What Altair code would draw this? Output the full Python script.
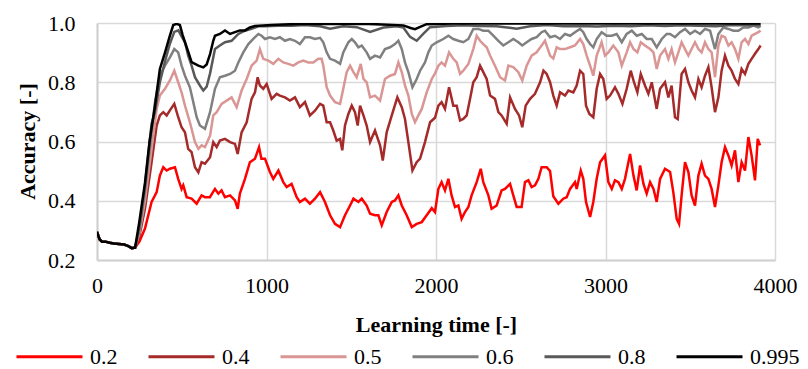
import altair as alt
import pandas as pd

SERIES = ["0.2", "0.4", "0.5", "0.6", "0.8", "0.995"]
COLORS = ["#FF0000", "#A52A2A", "#D99694", "#808080", "#595959", "#000000"]

# common start (all series coincide)
EARLY_T = [0, 15, 30, 50, 75, 100, 130, 160, 185, 205, 225]
EARLY_Y = [0.295, 0.270, 0.262, 0.262, 0.258, 0.256, 0.254, 0.252, 0.247, 0.240, 0.242]

T_02 = [250, 283, 322, 352, 371, 391, 411, 430, 460, 479, 499, 509, 529, 558, 588, 617, 637,
        666, 696, 716, 735, 755, 785, 814, 830, 843, 873, 902, 932, 956, 970, 991, 1020, 1040,
        1070, 1099, 1119, 1148, 1178, 1197, 1227, 1256, 1286, 1316, 1345, 1375, 1404, 1434,
        1463, 1493, 1513, 1542, 1562, 1591, 1611, 1640, 1660, 1680, 1709, 1739, 1758, 1778,
        1798, 1827, 1857, 1886, 1916, 1945, 1975, 1994, 2014, 2033, 2053, 2073, 2092, 2112,
        2132, 2151, 2171, 2191, 2210, 2240, 2264, 2279, 2309, 2328, 2358, 2387, 2407, 2437,
        2456, 2476, 2505, 2525, 2545, 2564, 2584, 2604, 2623, 2653, 2673, 2692, 2722, 2751,
        2771, 2791, 2820, 2830, 2854, 2869, 2885, 2909, 2928, 2948, 2968, 2997, 3017, 3037,
        3056, 3076, 3096, 3115, 3145, 3165, 3184, 3204, 3224, 3243, 3263, 3283, 3302, 3322,
        3351, 3381, 3400, 3420, 3434, 3449, 3469, 3489, 3508, 3528, 3548, 3567, 3587, 3607,
        3626, 3646, 3666, 3685, 3705, 3725, 3744, 3764, 3784, 3803, 3823, 3843, 3862, 3882,
        3898, 3912]
Y_02 = [0.262, 0.306, 0.396, 0.429, 0.485, 0.513, 0.502, 0.508, 0.513, 0.474, 0.440, 0.452,
        0.412, 0.407, 0.390, 0.418, 0.412, 0.412, 0.440, 0.424, 0.435, 0.412, 0.418, 0.401,
        0.373, 0.424, 0.474, 0.530, 0.542, 0.581, 0.542, 0.542, 0.497, 0.474, 0.502, 0.463,
        0.446, 0.457, 0.412, 0.396, 0.407, 0.390, 0.407, 0.429, 0.396, 0.351, 0.322, 0.311,
        0.351, 0.384, 0.407, 0.396, 0.407, 0.384, 0.356, 0.351, 0.351, 0.317, 0.362, 0.396,
        0.401, 0.418, 0.384, 0.351, 0.311, 0.322, 0.328, 0.351, 0.375, 0.362, 0.440, 0.463,
        0.435, 0.474, 0.418, 0.379, 0.384, 0.339, 0.362, 0.379, 0.418, 0.463, 0.508, 0.463,
        0.418, 0.373, 0.384, 0.435, 0.440, 0.457, 0.418, 0.379, 0.379, 0.463, 0.469, 0.446,
        0.452, 0.474, 0.513, 0.513, 0.500, 0.415, 0.390, 0.407, 0.412, 0.440, 0.463, 0.440,
        0.502, 0.474, 0.396, 0.345, 0.396, 0.474, 0.530, 0.553, 0.463, 0.440, 0.469, 0.463,
        0.440, 0.474, 0.558, 0.485, 0.435, 0.519, 0.457, 0.424, 0.463, 0.440, 0.396, 0.474,
        0.508, 0.497, 0.429, 0.339, 0.322, 0.418, 0.530, 0.497, 0.418, 0.384, 0.485, 0.525,
        0.485, 0.474, 0.440, 0.379, 0.452, 0.530, 0.581, 0.553, 0.519, 0.570, 0.463, 0.530,
        0.502, 0.615, 0.553, 0.469, 0.609, 0.587]

T_04 = [250, 283, 322, 352, 371, 391, 411, 430, 456, 476, 499, 519, 538, 558, 578, 598, 617,
        637, 667, 686, 706, 725, 755, 785, 814, 830, 853, 883, 912, 932, 948, 961, 981, 1001,
        1030, 1060, 1079, 1109, 1138, 1168, 1197, 1227, 1256, 1286, 1316, 1335, 1355, 1375,
        1394, 1414, 1434, 1447, 1463, 1483, 1503, 1522, 1538, 1552, 1572, 1591, 1611, 1640,
        1670, 1686, 1709, 1739, 1772, 1798, 1817, 1837, 1861, 1886, 1906, 1935, 1965, 1994,
        2014, 2033, 2053, 2077, 2102, 2122, 2142, 2161, 2181, 2201, 2220, 2240, 2260, 2279,
        2299, 2319, 2348, 2368, 2387, 2417, 2437, 2466, 2490, 2509, 2529, 2555, 2584, 2614,
        2634, 2653, 2673, 2692, 2712, 2732, 2761, 2781, 2810, 2830, 2850, 2869, 2885, 2905,
        2928, 2948, 2968, 2987, 3007, 3027, 3056, 3076, 3100, 3125, 3149, 3168, 3188, 3208,
        3233, 3253, 3273, 3302, 3322, 3351, 3371, 3390, 3410, 3426, 3449, 3469, 3489, 3508,
        3528, 3548, 3567, 3587, 3607, 3626, 3646, 3666, 3685, 3705, 3725, 3744, 3764, 3784,
        3803, 3823, 3843, 3862, 3882, 3902, 3915]
Y_04 = [0.280, 0.373, 0.530, 0.654, 0.688, 0.699, 0.688, 0.705, 0.727, 0.688, 0.648, 0.631,
        0.575, 0.564, 0.513, 0.496, 0.530, 0.525, 0.547, 0.598, 0.581, 0.603, 0.609, 0.598,
        0.592, 0.558, 0.631, 0.665, 0.744, 0.766, 0.817, 0.789, 0.778, 0.794, 0.744, 0.761,
        0.755, 0.749, 0.738, 0.749, 0.716, 0.733, 0.688, 0.704, 0.727, 0.721, 0.665, 0.665,
        0.637, 0.603, 0.609, 0.570, 0.654, 0.693, 0.721, 0.699, 0.654, 0.721, 0.688, 0.654,
        0.598, 0.637, 0.587, 0.536, 0.631, 0.688, 0.749, 0.716, 0.676, 0.598, 0.502, 0.530,
        0.542, 0.598, 0.665, 0.680, 0.721, 0.733, 0.710, 0.783, 0.721, 0.721, 0.671, 0.676,
        0.688, 0.744, 0.800, 0.817, 0.856, 0.834, 0.811, 0.755, 0.744, 0.699, 0.688, 0.660,
        0.749, 0.710, 0.688, 0.648, 0.721, 0.744, 0.761, 0.800, 0.839, 0.828, 0.800, 0.755,
        0.721, 0.766, 0.755, 0.772, 0.766, 0.789, 0.839, 0.828, 0.721, 0.693, 0.682, 0.778,
        0.828, 0.811, 0.744, 0.755, 0.783, 0.761, 0.727, 0.778, 0.839, 0.800, 0.766, 0.828,
        0.789, 0.761, 0.800, 0.710, 0.778, 0.800, 0.749, 0.789, 0.682, 0.676, 0.828, 0.845,
        0.800, 0.772, 0.749, 0.811, 0.783, 0.822, 0.851, 0.783, 0.699, 0.749, 0.839, 0.890,
        0.856, 0.839, 0.811, 0.794, 0.845, 0.828, 0.862, 0.879, 0.896, 0.912, 0.924]

T_05 = [250, 283, 322, 352, 371, 401, 430, 456, 479, 499, 519, 548, 578, 598, 617, 637, 667,
        686, 706, 735, 765, 794, 824, 853, 883, 912, 942, 961, 981, 1011, 1040, 1070, 1099,
        1129, 1158, 1188, 1217, 1246, 1276, 1306, 1325, 1335, 1355, 1375, 1404, 1434, 1453,
        1473, 1493, 1513, 1532, 1556, 1572, 1591, 1611, 1640, 1670, 1699, 1729, 1758, 1778,
        1798, 1817, 1837, 1857, 1876, 1896, 1916, 1945, 1975, 1994, 2014, 2033, 2053, 2077,
        2102, 2122, 2142, 2161, 2191, 2220, 2240, 2260, 2279, 2299, 2319, 2348, 2378, 2407,
        2427, 2456, 2486, 2509, 2535, 2564, 2594, 2623, 2643, 2673, 2692, 2712, 2732, 2761,
        2791, 2820, 2850, 2869, 2889, 2909, 2928, 2948, 2977, 2997, 3017, 3046, 3076, 3096,
        3125, 3145, 3165, 3188, 3208, 3233, 3263, 3283, 3302, 3322, 3351, 3371, 3390, 3410,
        3430, 3449, 3469, 3489, 3508, 3528, 3548, 3567, 3587, 3607, 3626, 3646, 3666, 3685,
        3705, 3725, 3744, 3764, 3784, 3803, 3823, 3843, 3862, 3882, 3902, 3915]
Y_05 = [0.290, 0.400, 0.575, 0.710, 0.755, 0.778, 0.806, 0.839, 0.800, 0.766, 0.721, 0.665,
        0.598, 0.575, 0.587, 0.581, 0.620, 0.688, 0.699, 0.727, 0.738, 0.749, 0.716, 0.772,
        0.811, 0.856, 0.873, 0.912, 0.879, 0.873, 0.862, 0.879, 0.867, 0.862, 0.856, 0.867,
        0.873, 0.867, 0.867, 0.879, 0.879, 0.856, 0.783, 0.755, 0.733, 0.727, 0.778, 0.834,
        0.856, 0.834, 0.817, 0.862, 0.811, 0.800, 0.749, 0.755, 0.738, 0.811, 0.822, 0.828,
        0.867, 0.834, 0.789, 0.755, 0.693, 0.665, 0.688, 0.710, 0.766, 0.811, 0.830, 0.856,
        0.867, 0.856, 0.901, 0.879, 0.867, 0.828, 0.839, 0.862, 0.912, 0.957, 0.940, 0.929,
        0.918, 0.890, 0.856, 0.817, 0.806, 0.856, 0.851, 0.834, 0.806, 0.856, 0.890, 0.901,
        0.924, 0.940, 0.890, 0.880, 0.918, 0.912, 0.912, 0.918, 0.924, 0.946, 0.929, 0.890,
        0.856, 0.822, 0.890, 0.935, 0.890, 0.901, 0.924, 0.901, 0.856, 0.901, 0.935, 0.912,
        0.901, 0.935, 0.924, 0.912, 0.901, 0.845, 0.890, 0.912, 0.879, 0.912, 0.867, 0.901,
        0.935, 0.912, 0.890, 0.912, 0.935, 0.912, 0.901, 0.935, 0.912, 0.901, 0.817, 0.924,
        0.957, 0.952, 0.924, 0.935, 0.912, 0.879, 0.935, 0.946, 0.929, 0.957, 0.963, 0.969,
        0.975]

T_06 = [250, 283, 322, 342, 371, 401, 430, 456, 479, 499, 519, 548, 568, 588, 607, 637, 667,
        696, 725, 755, 785, 814, 834, 863, 893, 922, 952, 971, 991, 1020, 1050, 1079, 1109,
        1138, 1168, 1197, 1227, 1256, 1286, 1316, 1335, 1355, 1375, 1404, 1434, 1453, 1483,
        1503, 1522, 1542, 1562, 1591, 1611, 1640, 1670, 1699, 1729, 1758, 1778, 1798, 1817,
        1837, 1861, 1886, 1906, 1935, 1955, 1975, 2004, 2043, 2073, 2102, 2132, 2161, 2191,
        2220, 2250, 2279, 2309, 2338, 2368, 2397, 2427, 2456, 2486, 2509, 2535, 2564, 2594,
        2623, 2643, 2673, 2702, 2732, 2761, 2791, 2820, 2850, 2869, 2889, 2909, 2928, 2948,
        2977, 3007, 3037, 3066, 3096, 3125, 3155, 3184, 3214, 3243, 3273, 3302, 3332, 3361,
        3381, 3410, 3440, 3469, 3499, 3528, 3558, 3587, 3617, 3646, 3666, 3695, 3725, 3754,
        3784, 3813, 3843, 3872, 3902, 3915]
Y_06 = [0.300, 0.430, 0.630, 0.733, 0.822, 0.856, 0.884, 0.912, 0.901, 0.856, 0.822, 0.783,
        0.733, 0.682, 0.654, 0.643, 0.699, 0.778, 0.817, 0.822, 0.828, 0.839, 0.867, 0.901,
        0.929, 0.946, 0.963, 0.957, 0.946, 0.952, 0.946, 0.952, 0.940, 0.946, 0.940, 0.929,
        0.952, 0.952, 0.946, 0.950, 0.935, 0.901, 0.879, 0.873, 0.862, 0.901, 0.935, 0.946,
        0.935, 0.918, 0.924, 0.901, 0.879, 0.890, 0.884, 0.912, 0.918, 0.929, 0.940, 0.912,
        0.867, 0.834, 0.783, 0.811, 0.839, 0.867, 0.901, 0.924, 0.935, 0.946, 0.957, 0.946,
        0.940, 0.935, 0.946, 0.980, 0.980, 0.974, 0.974, 0.957, 0.940, 0.924, 0.935, 0.946,
        0.935, 0.924, 0.935, 0.946, 0.952, 0.969, 0.974, 0.952, 0.957, 0.946, 0.963, 0.957,
        0.969, 0.980, 0.969, 0.946, 0.929, 0.918, 0.946, 0.969, 0.957, 0.957, 0.963, 0.935,
        0.963, 0.974, 0.957, 0.963, 0.946, 0.946, 0.918, 0.946, 0.963, 0.963, 0.952, 0.969,
        0.980, 0.963, 0.974, 0.963, 0.980, 0.974, 0.912, 0.963, 0.985, 0.980, 0.974, 0.974,
        0.985, 0.985, 0.991, 0.985, 0.991]

T_08 = [250, 283, 322, 342, 371, 401, 430, 456, 480, 499, 519, 538, 558, 578, 607, 627, 647,
        667, 696, 725, 755, 794, 834, 873, 912, 952, 991, 1070, 1148, 1227, 1316, 1375, 1453,
        1532, 1611, 1690, 1768, 1807, 1847, 1886, 1926, 1965, 2060, 2161, 2260, 2358, 2420,
        2476, 2555, 2653, 2751, 2850, 2950, 3050, 3150, 3250, 3350, 3450, 3550, 3650, 3750,
        3850, 3915]
Y_08 = [0.310, 0.450, 0.660, 0.700, 0.800, 0.870, 0.930, 0.970, 0.975, 0.955, 0.935, 0.890,
        0.856, 0.817, 0.789, 0.772, 0.785, 0.830, 0.912, 0.924, 0.935, 0.940, 0.963, 0.974,
        0.980, 0.989, 0.989, 0.991, 0.991, 0.993, 0.989, 0.981, 0.989, 0.986, 0.970, 0.985,
        0.989, 0.985, 0.953, 0.940, 0.964, 0.986, 0.990, 0.992, 0.990, 0.989, 0.985, 0.981,
        0.989, 0.993, 0.989, 0.990, 0.988, 0.991, 0.989, 0.992, 0.990, 0.992, 0.991, 0.989,
        0.993, 0.992, 0.993]

T_0995 = [250, 283, 310, 342, 371, 401, 430, 450, 470, 489, 505, 519, 540, 558, 598, 627, 647,
          667, 686, 696, 725, 755, 785, 814, 843, 873, 902, 932, 1030, 1100, 1200, 1400, 1600,
          1807, 1850, 1876, 1910, 1945, 2100, 2400, 2700, 3000, 3300, 3600, 3915]
Y_0995 = [0.330, 0.460, 0.600, 0.720, 0.845, 0.900, 0.957, 0.993, 0.997, 0.993, 0.960, 0.935,
          0.900, 0.868, 0.856, 0.850, 0.860, 0.895, 0.940, 0.957, 0.963, 0.975, 0.963, 0.969,
          0.975, 0.975, 0.985, 0.990, 0.993, 0.995, 0.997, 0.997, 0.997, 0.992, 0.983, 0.979,
          0.988, 0.996, 0.998, 0.998, 0.998, 0.998, 0.998, 0.998, 0.998]

SERIES_T = [T_02, T_04, T_05, T_06, T_08, T_0995]
SERIES_Y = [Y_02, Y_04, Y_05, Y_06, Y_08, Y_0995]

rows = []
for name, ts, ys in zip(SERIES, SERIES_T, SERIES_Y):
    for t, y in zip(EARLY_T + ts, EARLY_Y + ys):
        rows.append({"t": t, "acc": y, "series": name})
df = pd.DataFrame(rows)

FONT = "Liberation Serif"

chart = alt.Chart(df).mark_line(strokeWidth=2.5, clip=True).encode(
    x=alt.X("t:Q",
            scale=alt.Scale(domain=[0, 4000], nice=False),
            axis=alt.Axis(values=[0, 1000, 2000, 3000, 4000], format="d",
                          labelFont=FONT, labelFontSize=22, labelColor="#000000",
                          labelFlush=False,
                          title="Learning time [-]", titleY=71,
                          titleBaseline="alphabetic", labelPadding=15)),
    y=alt.Y("acc:Q",
            scale=alt.Scale(domain=[0.2, 1.0], nice=False, zero=False),
            axis=alt.Axis(values=[0.2, 0.4, 0.6, 0.8, 1.0], format=".1f",
                          labelFont=FONT, labelFontSize=22, labelColor="#000000",
                          labelFlush=False,
                          title="Accuracy [-]", titleX=-63, titleY=118,
                          titleAngle=-90, titleAlign="center",
                          titleBaseline="alphabetic", labelPadding=22)),
    color=alt.Color("series:N",
                    scale=alt.Scale(domain=SERIES, range=COLORS),
                    legend=alt.Legend(orient="none", direction="horizontal",
                                      legendX=-82, legendY=299, title=None,
                                      symbolType="stroke", symbolSize=4356,
                                      symbolStrokeWidth=3, labelFontSize=22,
                                      labelFont=FONT, labelColor="#000000",
                                      labelOffset=6, columnPadding=24,
                                      labelLimit=200, padding=0)),
    order=alt.Order("t:Q"),
).properties(
    width=678,
    height=237,
    autosize=alt.AutoSizeParams(type="none"),
    padding={"left": 97, "top": 23, "right": 33, "bottom": 109},
).configure_view(
    stroke=None
).configure_axis(
    labelFont=FONT, labelFontSize=22, labelColor="#000000",
    titleFont=FONT, titleFontSize=22, titleFontWeight="bold", titleColor="#000000",
    gridColor="#d9d9d9", gridWidth=1.5,
    domainColor="#d0d0d0", domainWidth=2,
    ticks=False, tickSize=0,
).configure_legend(
    labelFont=FONT
)

chart.save("out.html", embed_options={"renderer": "svg", "actions": False})
